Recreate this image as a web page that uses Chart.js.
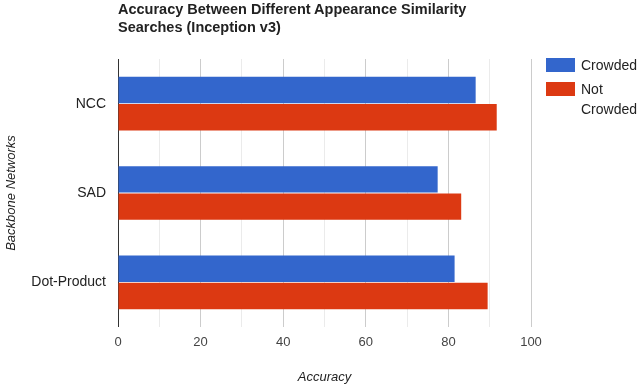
<!DOCTYPE html>
<html>
<head>
<meta charset="utf-8">
<script src="https://cdn.jsdelivr.net/npm/chart.js@4/dist/chart.umd.min.js"></script>
<style>
  html, body { margin: 0; padding: 0; background: #fff; }
  #wrap { position: relative; width: 640px; height: 389px; font-family: "Liberation Sans", Arial, sans-serif; }
  #title { position: absolute; left: 118px; top: 0px; font-size: 14.5px; font-weight: bold; line-height: 18px; color: #222; white-space: nowrap; }
  .leg { position: absolute; left: 546px; display: flex; align-items: flex-start; }
  .leg .box { width: 29px; height: 14px; }
  .leg .txt { margin-left: 6px; font-size: 14px; line-height: 20px; color: #222; margin-top: -3px; }
  canvas { position: absolute; left: 0; top: 0; }
</style>
</head>
<body>
<div id="wrap">
  <canvas id="c" width="640" height="389"></canvas>
  <div id="title">Accuracy Between Different Appearance Similarity<br>Searches (Inception v3)</div>
  <div class="leg" style="top:58px"><div class="box" style="background:#3366cc"></div><div class="txt">Crowded</div></div>
  <div class="leg" style="top:82px"><div class="box" style="background:#dc3912"></div><div class="txt">Not<br>Crowded</div></div>
</div>
<script>
"use strict";

const categories = ["NCC", "SAD", "Dot-Product"];
const crowded = [86.6, 77.4, 81.5];
const notCrowded = [91.7, 83.1, 89.5];
const xTickValues = [0, 10, 20, 30, 40, 50, 60, 70, 80, 90, 100];
const xTickLabels = ["0", "", "20", "", "40", "", "60", "", "80", "", "100"];

const FONT = "'Liberation Sans', Arial, sans-serif";

new Chart(document.getElementById("c"), {
  type: "bar",
  data: {
    labels: categories,
    datasets: [
      { label: "Crowded", data: crowded, backgroundColor: "#3366cc", borderWidth: 0 },
      { label: "Not Crowded", data: notCrowded, backgroundColor: "#dc3912", borderWidth: 0 },
    ],
  },
  options: {
    indexAxis: "y",
    responsive: false,
    animation: false,
    events: [],
    layout: { padding: { top: 59, right: 109, left: 0, bottom: 0 } },
    datasets: { bar: { categoryPercentage: 0.61, barPercentage: 0.97 } },
    plugins: { legend: { display: false }, tooltip: { enabled: false } },
    scales: {
      x: {
        min: 0,
        max: 100,
        afterBuildTicks: (scale) => {
          scale.ticks = xTickValues.map((v) => ({ value: v }));
        },
        afterFit: (scale) => { scale.height = 62; },
        grid: {
          drawTicks: false,
          lineWidth: 1,
          color: (ctx) => {
            const v = ctx.tick ? ctx.tick.value : 0;
            if (v === 0) return "#333333";
            return v % 20 === 0 ? "#cccccc" : "#ebebeb";
          },
        },
        border: { display: false },
        ticks: {
          autoSkip: false,
          maxRotation: 0,
          padding: 8,
          color: "#444",
          font: { family: FONT, size: 13 },
          callback: (v, i) => xTickLabels[i],
        },
        title: {
          display: true,
          text: "Accuracy",
          color: "#222",
          font: { family: FONT, size: 13, style: "italic" },
          padding: { top: 4, bottom: 4 },
        },
      },
      y: {
        afterFit: (scale) => { scale.width = 118; },
        grid: { display: false, drawTicks: false },
        border: { display: false },
        ticks: {
          padding: 12,
          color: "#222",
          font: { family: FONT, size: 14 },
        },
        title: {
          display: true,
          text: "Backbone Networks",
          color: "#222",
          font: { family: FONT, size: 13, style: "italic" },
          padding: { top: 4, bottom: 4 },
        },
      },
    },
  },
});
</script>
</body>
</html>
